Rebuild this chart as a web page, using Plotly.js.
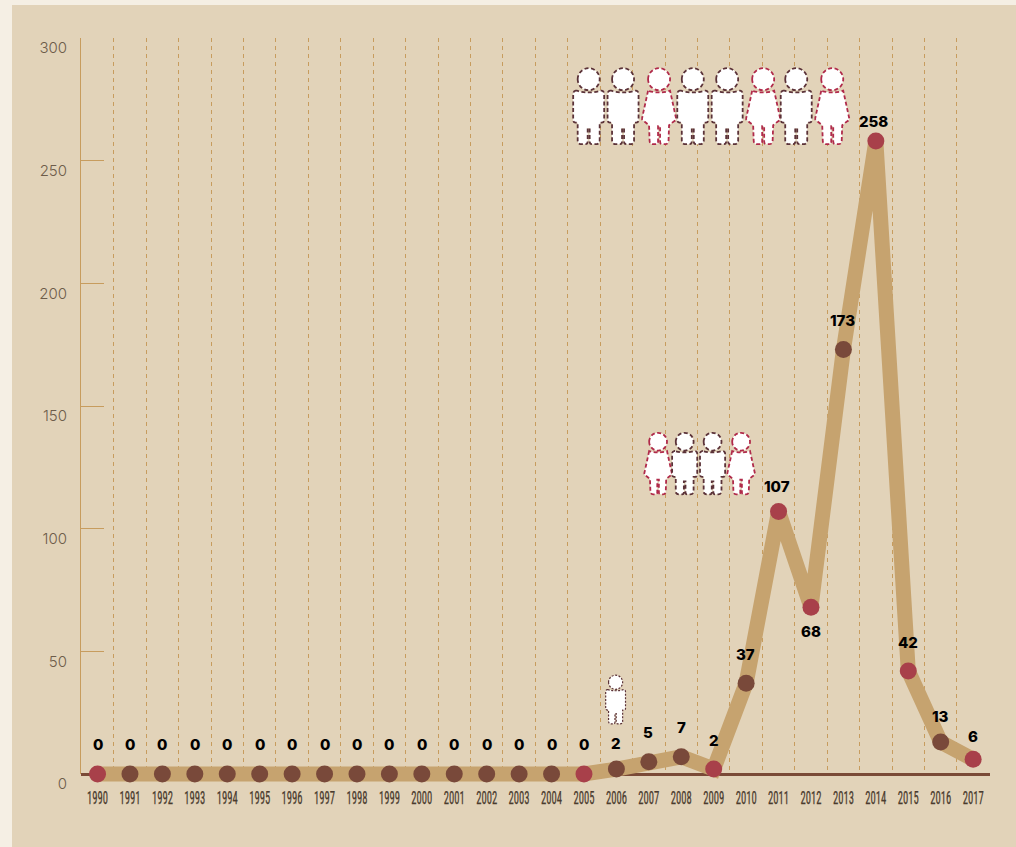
<!DOCTYPE html>
<html>
<head>
<meta charset="utf-8">
<script src="https://cdn.plot.ly/plotly-3.0.1.min.js"></script>
<style>
html,body{margin:0;padding:0;background:#f5efe4;width:1016px;height:847px;overflow:hidden}
#chart{position:absolute;left:12px;top:5px;width:1004px;height:842px}
.xtick text{stroke:#4a3b2e;stroke-width:.25px}
</style>
</head>
<body>
<div id="chart"></div>
<script>
const years = [1990,1991,1992,1993,1994,1995,1996,1997,1998,1999,2000,2001,2002,2003,2004,2005,2006,2007,2008,2009,2010,2011,2012,2013,2014,2015,2016,2017];
const values = [0,0,0,0,0,0,0,0,0,0,0,0,0,0,0,0,2,5,7,2,37,107,68,173,258,42,13,6];
const red = '#a8404a', brown = '#79493a';
const redYears = [1990,2005,2009,2011,2012,2014,2015,2017];
const labelShift = [30,30,30,30,30,30,30,30,30,30,30,30,30,30,30,30,26,29,29,29,29,25,-24,29,20,28,26,23];
const labelNudge = [0,0,0,0,0,0,0,0,0,0,0,0,0,0,0,0,0,-1,0,0,-1,-2,0,-1,-2,0,0,0];

// pictogram rows: position on the axes, figure scale, m = man, w = woman
const iconRows = [
  {y:283.2, s:1,    years:[2005.145,2006.205,2007.315,2008.355,2009.415,2010.525,2011.545,2012.655], kinds:['m','m','w','m','m','w','m','w']},
  {y:135.45, s:0.81, years:[2007.285,2008.105,2008.965,2009.845], kinds:['w','m','m','w']},
  {y:37.4,  s:0.64, years:[2005.975], kinds:['m']}
];
const head = [['M',-11,0],['C',-11,-6.1,-6.1,-11,0,-11],['C',6.1,-11,11,-6.1,11,0],['C',11,6.1,6.1,11,0,11],['C',-6.1,11,-11,6.1,-11,0],['Z']];
const man = [['M',-12,11.5],['L',-13,11.5],['Q',-15.5,12,-15.5,15],['L',-15.5,41],['Q',-15.5,43,-13,43.5],['L',-11,43.5],['L',-11,61],['Q',-11,65,-7,65],['L',-3,65],['Q',-1,65,-1,62],['L',-1,49],['L',1,49],['L',1,62],['Q',1,65,3,65],['L',7,65],['Q',11,65,11,61],['L',11,43.5],['L',13,43.5],['Q',15.5,43,15.5,41],['L',15.5,15],['Q',15.5,12,13,11.5],['L',12,11.5],['Q',0,15,-12,11.5],['Z']];
const woman = [['M',-11,11.5],['L',-17,39],['Q',-17.5,41,-15,42],['L',-10,46],['L',-9.5,61],['Q',-9.5,65,-6,65],['L',-3,65],['Q',-1,65,-1,62],['L',-1,47],['L',1,47],['L',1,62],['Q',1,65,3,65],['L',6,65],['Q',9.5,65,9.5,61],['L',10,46],['L',15,42],['Q',17.5,41,17,39],['L',11,11.5],['Q',0,15,-11,11.5],['Z']];

function pathOf(cmds, s){
  return cmds.map(c=>{
    let out = c[0];
    for(let i=1;i<c.length;i+=2){ out += (i>1?' ':'') + (c[i]*s).toFixed(2) + ',' + (-c[i+1]*s).toFixed(2); }
    return out;
  }).join(' ');
}
const shapes = [];
iconRows.forEach(row=>{
  row.years.forEach((yr,i)=>{
    const col = row.kinds[i]==='m' ? '#5b3238' : '#b02a4a';
    const body = row.kinds[i]==='m' ? man : woman;
    shapes.push({type:'path', xref:'x', yref:'y', xsizemode:'pixel', ysizemode:'pixel', xanchor:yr, yanchor:row.y,
      path:pathOf(body,row.s)+' '+pathOf(head,row.s), fillcolor:'#ffffff',
      line:{color:col, width:row.s<0.7?1.2:1.8, dash:row.s<0.7?'2px,1.5px':'4px,2.5px'}, layer:'above'});
  });
});

const annotations = years.map((yr,i)=>({
  x:yr, y:values[i], text:String(values[i]), showarrow:false, yshift:labelShift[i], xshift:labelNudge[i], xanchor:'center', yanchor:'middle',
  font:{family:'Inter, "Open Sans", sans-serif', size:15, weight:800, color:'#000000'}
}));

const trace = {
  x:years, y:values, type:'scatter', mode:'lines+markers', cliponaxis:false, hoverinfo:'skip',
  line:{color:'#c6a36f', width:15},
  marker:{size:17, color:years.map(y=>redYears.includes(y)?red:brown)}
};
const layout = {
  width:1004, height:842, autosize:false, showlegend:false,
  paper_bgcolor:'#e2d3b9', plot_bgcolor:'rgba(0,0,0,0)',
  margin:{l:69,r:26,t:33,b:73,pad:0},
  xaxis:{range:[1989.49,2017.52], tickmode:'linear', tick0:1990, dtick:1, showgrid:false, zeroline:false,
    showline:false, ticks:'', tickangle:0, ticklabelstandoff:11,
    tickfont:{family:'"Liberation Sans Narrow","Roboto Condensed",sans-serif', size:18, color:'#4a3b2e'},
    minor:{tick0:1990.5, dtick:1, showgrid:true, griddash:'4px,4px', gridcolor:'#c79c5e', gridwidth:1, ticks:''}},
  yaxis:{range:[0,300], tickmode:'linear', tick0:0, dtick:50, showgrid:false,
    zeroline:true, zerolinecolor:'#7a4a37', zerolinewidth:3,
    showline:true, linecolor:'#c79c5e', linewidth:1, ticks:'inside', ticklen:23, tickcolor:'#c79c5e', tickwidth:1,
    ticklabelshift:10, ticklabelstandoff:10,
    tickfont:{family:'Inter, Lato, sans-serif', size:15, weight:300, color:'#6d5c4a'}},
  shapes:shapes, annotations:annotations
};
Plotly.newPlot('chart',[trace],layout,{displayModeBar:false,staticPlot:true}).then(gd=>{
  // the thick line sits across the baseline, so it must not stop at the plot edge
  gd.querySelectorAll('[clip-path]').forEach(el=>el.removeAttribute('clip-path'));
  gd.querySelectorAll('.xtick text').forEach(t=>{
    t.setAttribute('textLength','21');
    t.setAttribute('lengthAdjust','spacingAndGlyphs');
  });
});
</script>
</body>
</html>
